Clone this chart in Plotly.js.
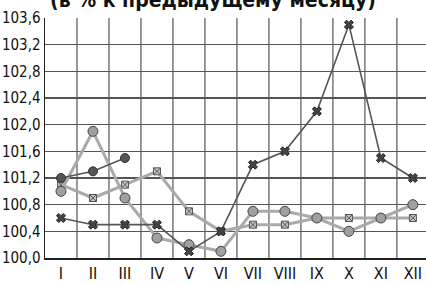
<!DOCTYPE html>
<html><head><meta charset="utf-8">
<script src="https://cdn.plot.ly/plotly-3.0.1.min.js"></script>
<style>html,body{margin:0;padding:0;background:#fff}#c{width:426px;height:284px}</style>
</head><body><div id="c"></div>
<script>
const months = [1,2,3,4,5,6,7,8,9,10,11,12];
const monthLabels = ["I","II","III","IV","V","VI","VII","VIII","IX","X","XI","XII"];
const darkStar = [100.6,100.5,100.5,100.5,100.1,100.4,101.4,101.6,102.2,103.5,101.5,101.2];
const lightStar = [101.1,100.9,101.1,101.3,100.7,100.4,100.5,100.5,100.6,100.6,100.6,100.6];
const lightCircle = [101.0,101.9,100.9,100.3,100.2,100.1,100.7,100.7,100.6,100.4,100.6,100.8];
const darkCircleX = [1,2,3];
const darkCircle = [101.2,101.3,101.5];
const yTicks = [100.0,100.4,100.8,101.2,101.6,102.0,102.4,102.8,103.2,103.6];

const traces = [
 {x:months,y:lightStar,mode:'lines+markers',line:{color:'#aaaaaa',width:3},
  marker:{symbol:'square-x',size:7,color:'#c4c4c4',line:{color:'#555',width:1}}},
 {x:months,y:lightCircle,mode:'lines+markers',line:{color:'#aaaaaa',width:3},
  marker:{symbol:'circle',size:10,color:'#a0a0a0',line:{color:'#444',width:1}}},
 {x:months,y:darkStar,mode:'lines+markers',line:{color:'#555555',width:1.6},
  marker:{symbol:'x',size:8,color:'#444',line:{color:'#222',width:1}}},
 {x:darkCircleX,y:darkCircle,mode:'lines+markers',line:{color:'#555555',width:1.6},
  marker:{symbol:'circle',size:9,color:'#555',line:{color:'#333',width:1}}}
];
const fnt = "'DejaVu Sans Condensed','Liberation Sans Narrow','Arial Narrow',Roboto,sans-serif";
const layout = {
 width:426,height:284,margin:{l:45,r:0,t:18,b:26},
 showlegend:false,paper_bgcolor:'#fff',plot_bgcolor:'#fff',
 title:{text:'<b>(в % к предыдущему месяцу)</b>',font:{family:fnt,size:21,color:'#111'},
   x:0.5,xref:'container',y:1.0,yref:'container',yanchor:'middle'},
 xaxis:{range:[0.5,12.41],tickvals:months,ticktext:monthLabels,showgrid:false,
   zeroline:false,showline:true,linecolor:'#222',linewidth:1.5,ticks:'',
   tickfont:{family:fnt,size:16,color:'#111'}},
 yaxis:{range:[100.0,103.6],tickvals:yTicks,ticktext:yTicks.map(v=>v.toFixed(1).replace('.',',')),
   showgrid:true,gridcolor:'#555',gridwidth:1.2,zeroline:false,showline:true,linecolor:'#222',linewidth:1.5,
   ticks:'',tickfont:{family:fnt,size:15,color:'#111'}},
 shapes:[1.5,2.5,3.5,4.5,5.5,6.5,7.5,8.5,9.5,10.5,11.5].map(v=>({type:'line',xref:'x',yref:'paper',x0:v,x1:v,y0:0,y1:1,layer:'below',line:{color:'#555',width:1.2}}))
};
Plotly.newPlot('c',traces,layout,{staticPlot:true});
</script></body></html>
